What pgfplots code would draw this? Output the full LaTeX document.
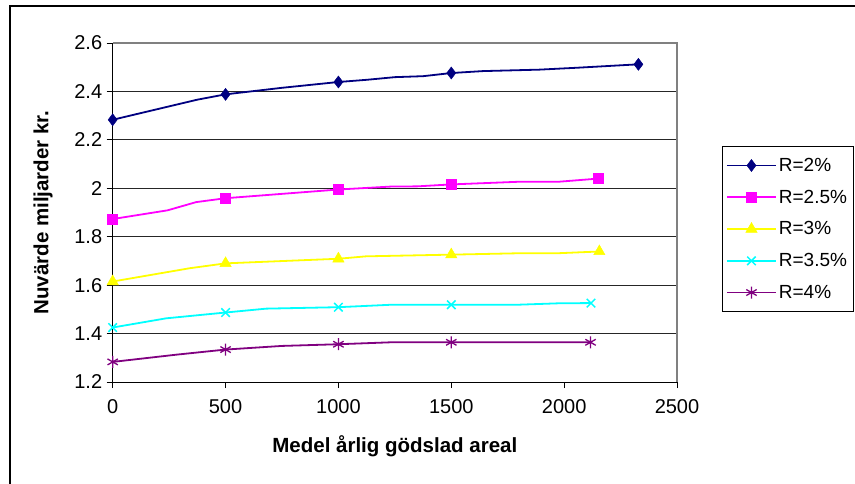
\documentclass[border=0pt]{standalone}
\usepackage{pgfplots}
\pgfplotsset{compat=1.18}
\usepackage{fontspec}
\setmainfont{Liberation Sans}

\definecolor{rtwo}{RGB}{0,0,128}
\definecolor{rtwofive}{RGB}{255,0,255}
\definecolor{rthree}{RGB}{255,255,0}
\definecolor{rthreefive}{RGB}{0,255,255}
\definecolor{rfour}{RGB}{128,0,128}

\begin{document}
\begin{tikzpicture}[x=1pt,y=1pt]
\path[use as bounding box] (0,0) rectangle (855,-483);
% chart frame
\draw[line width=2.2pt] (10,-484) -- (10,-6) -- (856,-6);
\begin{axis}[
  at={(112.7pt,-382pt)}, anchor=south west,
  scale only axis, width=564.3pt, height=339pt,
  xmin=0, xmax=2500, ymin=1.2, ymax=2.6,
  xtick={0,500,1000,1500,2000,2500},
  ytick={1.2,1.4,1.6,1.8,2,2.2,2.4,2.6},
  axis lines*=left,
  axis line style={black, line width=1pt},
  ymajorgrids,
  grid style={black!85, line width=0.8pt},
  tick align=outside, major tick length=6pt,
  tick style={black, line width=0.8pt},
  /pgf/number format/assume math mode=true,
  /pgf/number format/1000 sep={},
  ticklabel style={font=\fontsize{20}{22}\selectfont},
  xticklabel style={yshift=-8pt},
  yticklabel style={xshift=-1pt},
  xlabel={Medel årlig gödslad areal},
  ylabel={Nuvärde miljarder kr.},
  every axis x label/.style={at={(axis description cs:0.5,-0.189)}, anchor=center, font=\bfseries\fontsize{20.5}{22}\selectfont},
  every axis y label/.style={at={(axis description cs:-0.1235,0.5)}, rotate=90, anchor=center, font=\bfseries\fontsize{20.5}{22}\selectfont},
  legend style={at={(rel axis cs:1.0792,0.697)}, anchor=north west, draw=black, line width=0.8pt,
    font=\fontsize{19}{21}\selectfont, row sep=13pt, inner xsep=4pt, inner ysep=10pt,
    nodes={inner xsep=2pt}},
  legend cell align=left,
  legend image code/.code={
    \draw[line width=1.8pt, mark indices={2}] plot coordinates {(0pt,0pt) (24.5pt,0pt) (49pt,0pt)};
  },
  every axis plot/.append style={line width=1.8pt},
  clip=false,
  after end axis/.code={
    \draw[black!50, line width=1.6pt] (rel axis cs:0,1) -- (rel axis cs:1,1) -- (rel axis cs:1,0);
  },
]
\addplot[color=rtwo, mark=diamond*, mark size=6pt, mark options={solid, line width=0.5pt}, mark indices={1,3,5,9,13}]
  coordinates {(0,2.283) (375,2.366) (500,2.388) (750,2.415) (1000,2.439) (1125,2.448) (1250,2.459) (1375,2.463)
  (1500,2.476) (1640,2.484) (1890,2.490) (2060,2.498) (2329,2.512)};
\addlegendentry{R=2\%}
\addplot[color=rtwofive, mark=square*, mark size=5pt, mark options={solid, line width=0.5pt}, mark indices={1,4,5,8,11}]
  coordinates {(0,1.873) (243,1.909) (370,1.943) (500,1.959) (1000,1.995) (1230,2.007) (1350,2.008)
  (1500,2.016) (1800,2.027) (1975,2.027) (2150,2.040)};
\addlegendentry{R=2.5\%}
\addplot[color=rthree, mark=triangle*, mark size=6.5pt, mark options={solid, line width=0.5pt}, mark indices={1,3,4,6,9}]
  coordinates {(0,1.615) (342,1.670) (500,1.690) (1000,1.709) (1122,1.719) (1500,1.726) (1815,1.732) (1977,1.732) (2156,1.739)};
\addlegendentry{R=3\%}
\addplot[color=rthreefive, mark=x, mark size=6pt, mark options={solid, line width=1.5pt}, mark indices={1,3,5,7,10}]
  coordinates {(0,1.425) (237,1.463) (500,1.487) (680,1.503) (1000,1.509) (1232,1.519) (1500,1.519) (1790,1.519) (1975,1.525) (2119,1.526)};
\addlegendentry{R=3.5\%}
\addplot[color=rfour, mark=asterisk, mark size=6pt, mark options={solid, line width=1.3pt}, mark indices={1,3,5,7,8}]
  coordinates {(0,1.283) (283,1.313) (500,1.334) (750,1.349) (1000,1.356) (1232,1.364) (1500,1.364) (2117,1.364)};
\addlegendentry{R=4\%}
\end{axis}
\end{tikzpicture}
\end{document}
